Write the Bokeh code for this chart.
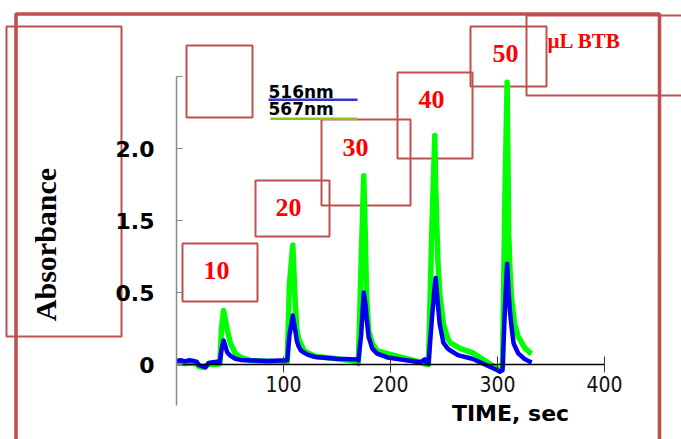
from bokeh.plotting import figure
from bokeh.models import Range1d, LinearAxis, FixedTicker, BoxAnnotation, Label
from bokeh.embed import file_html
from bokeh.resources import INLINE

# ---------------- data ----------------
time_s = [0, 4, 8, 12, 16, 19, 21, 24, 27, 30, 34, 38, 40.5,
          42, 44, 47.5, 50.5, 55, 60, 69, 85, 103.5,
          105.5, 108.7, 111, 112.6, 114, 116, 119, 122, 128, 131.5, 150, 169,
          170, 172.5, 175, 176.6, 177.6, 179.6, 183, 187.5, 197, 228,
          230, 232, 234, 235.5, 238.5, 241.4, 242.2, 244.3, 246, 249.5, 253.5,
          256, 263, 265.5, 276.5, 300, 302, 304.7,
          307, 309, 310.5, 311.5, 313, 315, 316, 319.5, 320.5, 325, 330, 332]
abs_567 = [0.010, 0.012, 0.005, 0.010, 0.008, 0.000, -0.015, -0.020, -0.015, 0.005, 0.000, 0.002, 0.005,
           0.25, 0.375, 0.236, 0.146, 0.076, 0.049, 0.028, 0.022, 0.015,
           0.55, 0.83, 0.42, 0.236, 0.18, 0.146, 0.10, 0.083, 0.062, 0.055, 0.040, 0.020,
           0.007, 0.70, 1.31, 0.84, 0.49, 0.236, 0.146, 0.097, 0.076, 0.016,
           0.010, 0.005, 0.000, 0.000, 0.90, 1.59, 1.25, 0.72, 0.49, 0.28, 0.18,
           0.15, 0.12, 0.11, 0.083, -0.030, -0.035, -0.020,
           1.20, 1.96, 0.90, 0.68, 0.47, 0.34, 0.28, 0.19, 0.18, 0.12, 0.083, 0.075]
abs_516 = [0.025, 0.030, 0.022, 0.030, 0.025, 0.018, -0.005, -0.012, -0.020, 0.010, 0.015, 0.020, 0.015,
           0.10, 0.167, 0.083, 0.060, 0.040, 0.032, 0.028, 0.025, 0.030,
           0.20, 0.34, 0.236, 0.16, 0.13, 0.10, 0.083, 0.070, 0.055, 0.050, 0.040, 0.035,
           0.028, 0.20, 0.50, 0.42, 0.33, 0.19, 0.11, 0.076, 0.049, 0.015,
           0.025, 0.035, 0.010, 0.005, 0.30, 0.55, 0.60, 0.42, 0.28, 0.15, 0.11,
           0.097, 0.065, 0.060, 0.040, -0.040, -0.050, -0.040,
           0.40, 0.70, 0.49, 0.38, 0.27, 0.15, 0.13, 0.076, 0.07, 0.04, 0.02, 0.015]

x_ticks = [100, 200, 300, 400]
y_ticks = [0, 0.5, 1.0, 1.5, 2.0]
y_tick_text = ["0", "0.5", "1.5", "2.0", ""]
legend_names = ["516nm", "567nm"]
dose_labels = ["10", "20", "30", "40", "50"]
unit_label = "µL BTB"
y_title = "Absorbance"
x_title = "TIME, sec"

# ---------------- layout (pixels of the 681x439 page) ----------------
W, H = 681, 439
X0_PX, X400_PX = 176, 604
Y0_PX, Y_PER_UNIT = 364, 144
px_per_t = (X400_PX - X0_PX) / 400.0
x_start = -X0_PX / px_per_t
x_end = (W - X0_PX) / px_per_t
y_end = Y0_PX / Y_PER_UNIT
y_start = -(H - Y0_PX) / Y_PER_UNIT


def dx(px):
    return x_start + px / px_per_t


def dy(py):
    return y_end - py / Y_PER_UNIT


BOX_RED = "#C0504D"
boxes = [  # left, top, right, bottom, width
    (15.5, 13.5, 659, 480, 3.6),
    (6, 26, 121, 336, 2),
    (186, 45, 252, 117, 2),
    (182, 243, 257, 301, 2),
    (255, 180, 329, 236, 2),
    (321, 119, 410, 205, 2),
    (397, 72, 472, 158, 2),
    (470, 26, 546, 86, 2),
    (526, 15, 720, 95, 2),
]
dose_pos = [(216, 270), (288, 207), (355, 147), (431, 99), (505, 53)]

p = figure(width=W, height=H, x_range=Range1d(x_start, x_end), y_range=Range1d(y_start, y_end),
           x_axis_location=None, y_axis_location=None, toolbar_location=None,
           output_backend="svg", min_border=0, outline_line_color=None,
           background_fill_color="white", border_fill_color="white")
p.grid.visible = False

for (l, t, r, b, w) in boxes:
    p.add_layout(BoxAnnotation(left=dx(l), right=dx(r), top=dy(t), bottom=dy(b),
                               fill_alpha=0, fill_color=None, line_color=BOX_RED,
                               line_alpha=1.0, line_width=w, level="underlay"))

p.line(time_s, abs_567, line_color="#00ff00", line_width=5.5, line_join="round")
p.line(time_s, abs_516, line_color="#0000f0", line_width=4.5, line_join="round")

xaxis = LinearAxis(fixed_location=0, bounds=(0, 400), ticker=FixedTicker(ticks=x_ticks),
                   axis_line_color="black", axis_line_width=1.5,
                   major_tick_in=8, major_tick_out=8, major_tick_line_color="#333333",
                   minor_tick_line_color=None,
                   major_label_text_font="Liberation Sans Narrow, DejaVu Sans Condensed, Liberation Sans",
                   major_label_text_font_size="21px", major_label_text_color="#111111",
                   major_label_standoff=3)
p.add_layout(xaxis, "below")

yaxis = LinearAxis(fixed_location=0, bounds=(-0.285, 2.0), ticker=FixedTicker(ticks=y_ticks),
                   major_label_overrides=dict(zip(y_ticks, y_tick_text)),
                   axis_line_color="#8a8a8a", axis_line_width=1.5,
                   major_tick_in=6, major_tick_out=0, major_tick_line_color="#8a8a8a",
                   minor_tick_line_color=None,
                   major_label_text_font="DejaVu Sans", major_label_text_font_style="bold",
                   major_label_text_font_size="22px", major_label_text_color="black",
                   major_label_standoff=22)
p.add_layout(yaxis, "left")

# legend: names with a coloured bar underneath
legend_colors = ["#3535c8", "#8cc21e"]
legend_mid = [91, 108]
legend_bar = [(268, 98, 357, 100.5), (270, 117, 357, 119.5)]
for name, col, mid, (l, t, r, b) in zip(legend_names, legend_colors, legend_mid, legend_bar):
    p.add_layout(Label(x=dx(268), y=dy(mid), text=name, text_font="DejaVu Sans",
                       text_font_style="bold", text_font_size="17px", text_color="black",
                       text_align="left", text_baseline="middle"))
    p.add_layout(BoxAnnotation(left=dx(l), right=dx(r), top=dy(t), bottom=dy(b),
                               fill_color=col, fill_alpha=1, line_color=None))

for txt, (cx, cy) in zip(dose_labels, dose_pos):
    p.add_layout(Label(x=dx(cx), y=dy(cy), text=txt, text_font="Liberation Serif",
                       text_font_style="bold", text_font_size="26px", text_color="#ff0000",
                       text_align="center", text_baseline="middle"))

p.add_layout(Label(x=dx(547), y=dy(40), text=unit_label, text_font="Liberation Serif",
                   text_font_style="bold", text_font_size="21px", text_color="#ff0000",
                   text_align="left", text_baseline="middle"))

p.add_layout(Label(x=dx(45), y=dy(244), text=y_title, text_font="Liberation Serif",
                   text_font_style="bold", text_font_size="30px", text_color="black",
                   angle=1.5707963, text_align="center", text_baseline="middle"))

p.add_layout(Label(x=dx(510), y=dy(413), text=x_title, text_font="DejaVu Sans",
                   text_font_style="bold", text_font_size="22px", text_color="black",
                   text_align="center", text_baseline="middle"))

open("out.html", "w").write(file_html(p, INLINE))
